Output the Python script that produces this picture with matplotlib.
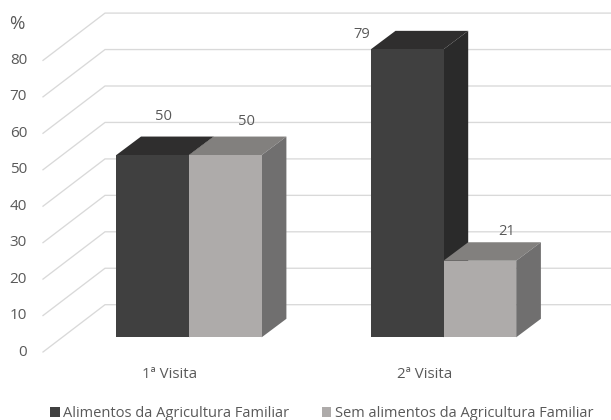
import matplotlib
matplotlib.use("Agg")
import matplotlib.pyplot as plt
from matplotlib.patches import Patch, Polygon

plt.rcParams['font.family'] = ['Open Sans', 'DejaVu Sans']

visits = ['1ª Visita', '2ª Visita']
series_names = ['Alimentos da Agricultura Familiar', 'Sem alimentos da Agricultura Familiar']
with_family_farming = [50, 79]
without_family_farming = [50, 21]
y_ticks = [0, 10, 20, 30, 40, 50, 60, 70, 80]

# pixel scale of the oblique view
W, H = 611, 420
PX_PER_CAT = 254.5
PX_PER_VAL = 3.645
X0_PX = 189.0
Y0_PX = 337.3

BAR_W = 72.7 / PX_PER_CAT
BAR_DX = 24.7 / PX_PER_CAT
BAR_DY = 18.5 / PX_PER_VAL

# floor: front edge sits below the bars, back wall behind them
FLOOR_FRONT_Y = -14.7 / PX_PER_VAL
WALL_DY = 47.3 / PX_PER_VAL
WALL_LEFT = (105 - X0_PX) / PX_PER_CAT
FLOOR_LEFT = (43 - X0_PX) / PX_PER_CAT

TEXT = '#595959'
GRID = '#d9d9d9'
DARK = {'front': '#404040', 'top': '#2f2e2e', 'side': '#2a2a2a'}
LIGHT = {'front': '#aeabaa', 'top': '#82807e', 'side': '#706f6f'}


def draw_bar(ax, left, value, shades):
    right = left + BAR_W
    ax.add_patch(Polygon([(left, value), (left + BAR_DX, value + BAR_DY),
                          (right + BAR_DX, value + BAR_DY), (right, value)],
                         facecolor=shades['top'], edgecolor='none', zorder=3))
    ax.add_patch(Polygon([(right, 0), (right + BAR_DX, BAR_DY),
                          (right + BAR_DX, value + BAR_DY), (right, value)],
                         facecolor=shades['side'], edgecolor='none', zorder=3))
    ax.bar(left, value, width=BAR_W, align='edge', color=shades['front'], zorder=4)


fig = plt.figure(figsize=(W / 100, H / 100), dpi=100)
ax = fig.add_axes([0, 0, 1, 1])
ax.set_xlim(-X0_PX / PX_PER_CAT, (W - X0_PX) / PX_PER_CAT)
ax.set_ylim((Y0_PX - H) / PX_PER_VAL, Y0_PX / PX_PER_VAL)
ax.axis('off')

# gridlines run along the back wall and fold forward over the floor
for t in y_ticks:
    front = t * 1.0 + FLOOR_FRONT_Y
    back = front + WALL_DY
    ax.plot([FLOOR_LEFT, WALL_LEFT, ax.get_xlim()[1]], [front, back, back],
            color=GRID, lw=0.95, zorder=1, solid_joinstyle='miter')
    ax.annotate(str(t), (FLOOR_LEFT, front), xytext=(-16, 0), textcoords='offset pixels',
                ha='right', va='center', fontsize=11, color=TEXT)

ax.annotate('%', (FLOOR_LEFT, y_ticks[-1] + FLOOR_FRONT_Y), xytext=(-34, 36),
            textcoords='offset pixels', ha='left', va='center', fontsize=13.5, color=TEXT)

for i, visit in enumerate(visits):
    draw_bar(ax, i - BAR_W, with_family_farming[i], DARK)
    draw_bar(ax, i, without_family_farming[i], LIGHT)
    ax.annotate(visit, (i, 0), xytext=(-19, -37), textcoords='offset pixels',
                ha='center', va='center', fontsize=10.8, color=TEXT)

# value labels sit just above each bar's top face
label_offsets = {(0, 0): (11, 39), (0, 1): (21, 34),
                 (1, 0): (-45, 15), (1, 1): (27, 29)}
for i in range(len(visits)):
    for j, vals in enumerate([with_family_farming, without_family_farming]):
        left = i - BAR_W if j == 0 else i
        ax.annotate(str(vals[i]), (left + BAR_W / 2, vals[i]),
                    xytext=label_offsets[(i, j)], textcoords='offset pixels',
                    ha='center', va='center', fontsize=10.6, color=TEXT, zorder=6)

handles = [Patch(facecolor=DARK['front'], label=series_names[0]),
           Patch(facecolor=LIGHT['front'], label=series_names[1])]
fig.legend(handles=handles, loc='lower left', bbox_to_anchor=(50 / W, -1 / H),
           bbox_transform=fig.transFigure, ncol=2, frameon=False, fontsize=10.55,
           labelcolor=TEXT, handlelength=0.65, handleheight=0.65, handletextpad=0.27,
           columnspacing=2.2, borderpad=0, borderaxespad=0)

fig.savefig('out.png', dpi=100, facecolor='white')
plt.close(fig)
